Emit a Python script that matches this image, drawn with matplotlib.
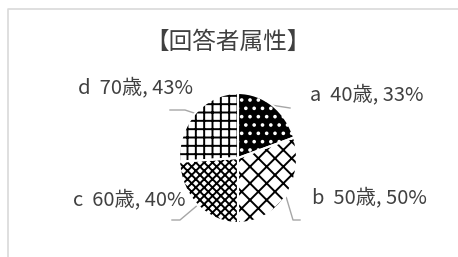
import numpy as np
import matplotlib
matplotlib.use("Agg")
import matplotlib.pyplot as plt

# =========================
# データ
# =========================
letters = ["a", "b", "c", "d"]
ages = ["40歳", "50歳", "60歳", "70歳"]
values = [33, 50, 40, 43]
hatches = ["..", "xx", "xxxx", "++"]
title = "【回答者属性】"

plt.rcParams["font.family"] = ["Noto Sans CJK JP", "DejaVu Sans"]
plt.rcParams["hatch.linewidth"] = 1.4

W, H = 458, 257
fig = plt.figure(figsize=(W / 100, H / 100), dpi=100)

# 背景用の軸（ピクセル座標）
bg = fig.add_axes([0, 0, 1, 1])
bg.set_xlim(0, W)
bg.set_ylim(H, 0)
bg.axis("off")
bg.plot([7.5, 7.5, W + 5], [H + 5, 8.5, 8.5], color="#d9d9d9", lw=1.2, clip_on=False)
bg.text(228, 42, title, fontsize=17, color="#404040", ha="center", va="center")

# 円グラフ（少し縦長）
cx, cy, rx, ry = 238, 158, 59, 65
pie_ax = fig.add_axes([(cx - rx) / W, (H - cy - ry) / H, 2 * rx / W, 2 * ry / H])
wedges, _ = pie_ax.pie(values, startangle=90, counterclock=False,
                       wedgeprops=dict(linewidth=0))
for i, w in enumerate(wedges):
    w.set_hatch(hatches[i])
    if i == 0:
        w.set_facecolor("black")
        w.set_edgecolor("white")
    else:
        w.set_facecolor("white")
        w.set_edgecolor("black")
pie_ax.pie(values, startangle=90, counterclock=False,
           wedgeprops=dict(fill=False, edgecolor="white", linewidth=1.5))
pie_ax.set_aspect("auto")
pie_ax.set_xlim(-1, 1)
pie_ax.set_ylim(-1, 1)
pie_ax.axis("off")

# ラベルと引き出し線
label_pos = [(310, 95), (312, 198), (73, 200), (78, 88)]
knees = [[(290, 108)], [(293, 220), (300, 220)], [(180, 220), (172, 220)], [(185, 110), (170, 110)]]
for i, w in enumerate(wedges):
    mid = np.deg2rad((w.theta1 + w.theta2) / 2)
    sx = cx + rx * np.cos(mid)
    sy = cy - ry * np.sin(mid)
    xs = [sx] + [p[0] for p in knees[i]]
    ys = [sy] + [p[1] for p in knees[i]]
    bg.plot(xs, ys, color="#a6a6a6", lw=1, zorder=1)
    x, y = label_pos[i]
    bg.text(x, y, f"{letters[i]}  {ages[i]}, {values[i]}%", fontsize=14.5,
            color="#404040", ha="left", va="center")

fig.savefig("out.png", dpi=100)
